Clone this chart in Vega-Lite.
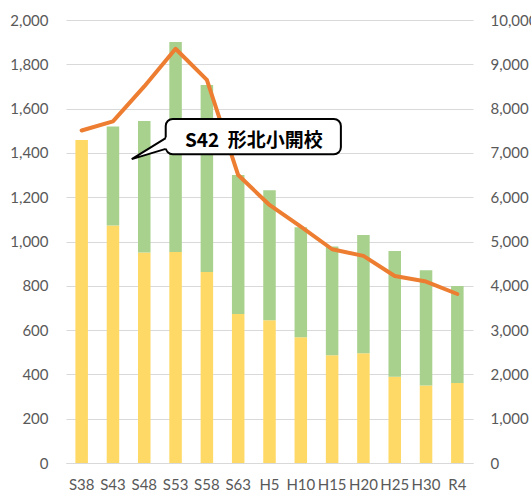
{
  "$schema": "https://vega.github.io/schema/vega-lite/v6.json",
  "width": 407,
  "height": 443,
  "autosize": "none",
  "padding": {"left": 66, "top": 20, "right": 58, "bottom": 29},
  "config": {"view": {"stroke": null}, "font": "Lato"},
  "datasets": {
    "bars": [
      {"year": "S38", "part": "A", "value": 1458},
      {"year": "S38", "part": "B", "value": 0},
      {"year": "S43", "part": "A", "value": 1072},
      {"year": "S43", "part": "B", "value": 447},
      {"year": "S48", "part": "A", "value": 950},
      {"year": "S48", "part": "B", "value": 594},
      {"year": "S53", "part": "A", "value": 953},
      {"year": "S53", "part": "B", "value": 948},
      {"year": "S58", "part": "A", "value": 862},
      {"year": "S58", "part": "B", "value": 844},
      {"year": "S63", "part": "A", "value": 673},
      {"year": "S63", "part": "B", "value": 627},
      {"year": "H5", "part": "A", "value": 645},
      {"year": "H5", "part": "B", "value": 586},
      {"year": "H10", "part": "A", "value": 568},
      {"year": "H10", "part": "B", "value": 496},
      {"year": "H15", "part": "A", "value": 487},
      {"year": "H15", "part": "B", "value": 490},
      {"year": "H20", "part": "A", "value": 496},
      {"year": "H20", "part": "B", "value": 533},
      {"year": "H25", "part": "A", "value": 389},
      {"year": "H25", "part": "B", "value": 568},
      {"year": "H30", "part": "A", "value": 350},
      {"year": "H30", "part": "B", "value": 520},
      {"year": "R4", "part": "A", "value": 361},
      {"year": "R4", "part": "B", "value": 438}
    ],
    "line": [
      {"year": "S38", "count": 7505},
      {"year": "S43", "count": 7710},
      {"year": "S48", "count": 8500},
      {"year": "S53", "count": 9350},
      {"year": "S58", "count": 8650},
      {"year": "S63", "count": 6500},
      {"year": "H5", "count": 5825},
      {"year": "H10", "count": 5335},
      {"year": "H15", "count": 4825},
      {"year": "H20", "count": 4675},
      {"year": "H25", "count": 4220},
      {"year": "H30", "count": 4095},
      {"year": "R4", "count": 3815}
    ],
    "box": [{"x": 3.185, "x2": 8.78, "y": 1394, "y2": 1553, "text": "S42\u00a0\u00a0形北小開校", "tx": 6.0, "ty": 1454}],
    "tail": [
      {"x": 2.10, "y": 1372, "y2": 1372},
      {"x": 3.3, "y": 1477, "y2": 1423}
    ],
    "edge": [
      {"x": 3.185, "y": 1467, "o": 1},
      {"x": 2.10, "y": 1372, "o": 2},
      {"x": 3.185, "y": 1418, "o": 3}
    ]
  },
  "layer": [
    {
      "data": {"name": "bars"},
      "mark": {"type": "bar"},
      "encoding": {
        "x": {
          "field": "year", "type": "nominal", "sort": null,
          "scale": {"type": "band", "paddingInner": 0.6, "paddingOuter": 0.3},
          "axis": {"title": null, "labelAngle": 0, "ticks": false, "grid": false, "domainColor": "#D9D9D9", "domainWidth": 1, "labelColor": "#595959", "labelFontSize": 15, "labelPadding": 14, "labelFont": "Lato"}
        },
        "y": {
          "field": "value", "type": "quantitative", "stack": "zero",
          "scale": {"domain": [0, 2000], "nice": false},
          "axis": {"title": null, "orient": "left", "values": [0, 200, 400, 600, 800, 1000, 1200, 1400, 1600, 1800, 2000], "format": ",.0f", "domain": false, "ticks": false, "grid": true, "gridColor": "#D9D9D9", "gridWidth": 1, "labelColor": "#595959", "labelFontSize": 15, "labelPadding": 18, "labelFont": "Lato"}
        },
        "color": {"field": "part", "type": "nominal", "scale": {"domain": ["A", "B"], "range": ["#FFD966", "#A9D18E"]}, "legend": null},
        "order": {"field": "part", "sort": "ascending"}
      }
    },
    {
      "data": {"name": "line"},
      "mark": {"type": "line", "color": "#ED7D31", "strokeWidth": 4, "strokeCap": "round", "strokeJoin": "round"},
      "encoding": {
        "x": {"field": "year", "type": "nominal", "sort": null, "scale": {"type": "point", "padding": 0.5}, "axis": null},
        "y": {
          "field": "count", "type": "quantitative",
          "scale": {"domain": [0, 10000], "nice": false},
          "axis": {"title": null, "orient": "right", "values": [0, 1000, 2000, 3000, 4000, 5000, 6000, 7000, 8000, 9000, 10000], "format": ",.0f", "domain": false, "ticks": false, "grid": false, "labelColor": "#595959", "labelFontSize": 15, "labelPadding": 17, "labelFont": "Lato"}
        }
      }
    },
    {
      "data": {"name": "box"},
      "mark": {"type": "rect", "fill": "white", "stroke": "black", "strokeWidth": 2, "cornerRadius": 7},
      "encoding": {
        "x": {"field": "x", "type": "quantitative", "scale": {"domain": [0, 13], "nice": false, "zero": false}, "axis": null},
        "x2": {"field": "x2"},
        "y": {"field": "y", "type": "quantitative", "scale": {"domain": [0, 2000], "nice": false}, "axis": null},
        "y2": {"field": "y2"}
      }
    },
    {
      "data": {"name": "tail"},
      "mark": {"type": "area", "fill": "white", "opacity": 1, "orient": "vertical"},
      "encoding": {
        "x": {"field": "x", "type": "quantitative", "scale": {"domain": [0, 13], "nice": false, "zero": false}, "axis": null},
        "y": {"field": "y", "type": "quantitative", "scale": {"domain": [0, 2000], "nice": false}, "axis": null},
        "y2": {"field": "y2"}
      }
    },
    {
      "data": {"name": "edge"},
      "mark": {"type": "line", "color": "black", "strokeWidth": 2, "strokeJoin": "miter"},
      "encoding": {
        "x": {"field": "x", "type": "quantitative", "scale": {"domain": [0, 13], "nice": false, "zero": false}, "axis": null},
        "y": {"field": "y", "type": "quantitative", "scale": {"domain": [0, 2000], "nice": false}, "axis": null},
        "order": {"field": "o"}
      }
    },
    {
      "data": {"name": "box"},
      "mark": {"type": "text", "font": "Noto Sans CJK JP", "fontWeight": "bold", "fontSize": 19, "color": "black", "align": "center", "baseline": "middle"},
      "encoding": {
        "x": {"field": "tx", "type": "quantitative", "scale": {"domain": [0, 13], "nice": false, "zero": false}, "axis": null},
        "y": {"field": "ty", "type": "quantitative", "scale": {"domain": [0, 2000], "nice": false}, "axis": null},
        "text": {"field": "text"}
      }
    }
  ],
  "resolve": {"scale": {"x": "independent", "y": "independent"}}
}
